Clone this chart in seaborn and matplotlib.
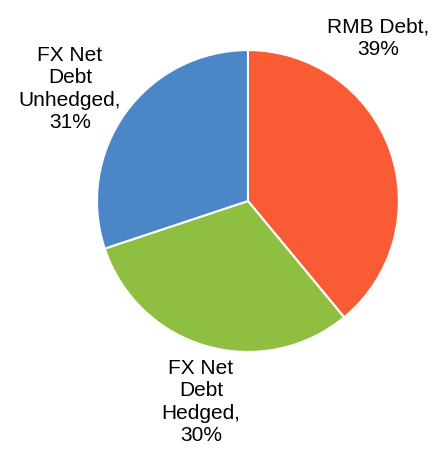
import matplotlib.pyplot as plt
import seaborn as sns

# Data (slice sizes as drawn; label text as printed on the chart)
categories = ['RMB Debt', 'FX Net Debt Hedged', 'FX Net Debt Unhedged']
labels = ['RMB Debt,\n39%', 'FX Net\nDebt\nHedged,\n30%', 'FX Net\nDebt\nUnhedged,\n31%']
values = [39.0, 30.9, 30.1]
colors = ['#F95B34', '#8EBF41', '#4B87C8']

sns.set_theme(style='white')
plt.rcParams['font.family'] = ['Liberation Sans', 'DejaVu Sans']

fig = plt.figure(figsize=(4.35, 4.49), dpi=100)
ax = fig.add_axes([0.223, 0.216, 0.694, 0.6726])
ax.pie(values, colors=colors, startangle=90, counterclock=False,
       wedgeprops=dict(edgecolor='white', linewidth=1.5))
ax.set_xlim(-1, 1)
ax.set_ylim(-1, 1)

# label positions (data units, radius = 1)
label_pos = [(0.861, 1.079), (-0.311, -1.331), (-1.179, 0.742)]
for text, (x, y) in zip(labels, label_pos):
    ax.text(x, y, text, ha='center', va='center', fontsize=15,
            color='black', linespacing=1.22, clip_on=False)

fig.savefig('out.png', dpi=100)
